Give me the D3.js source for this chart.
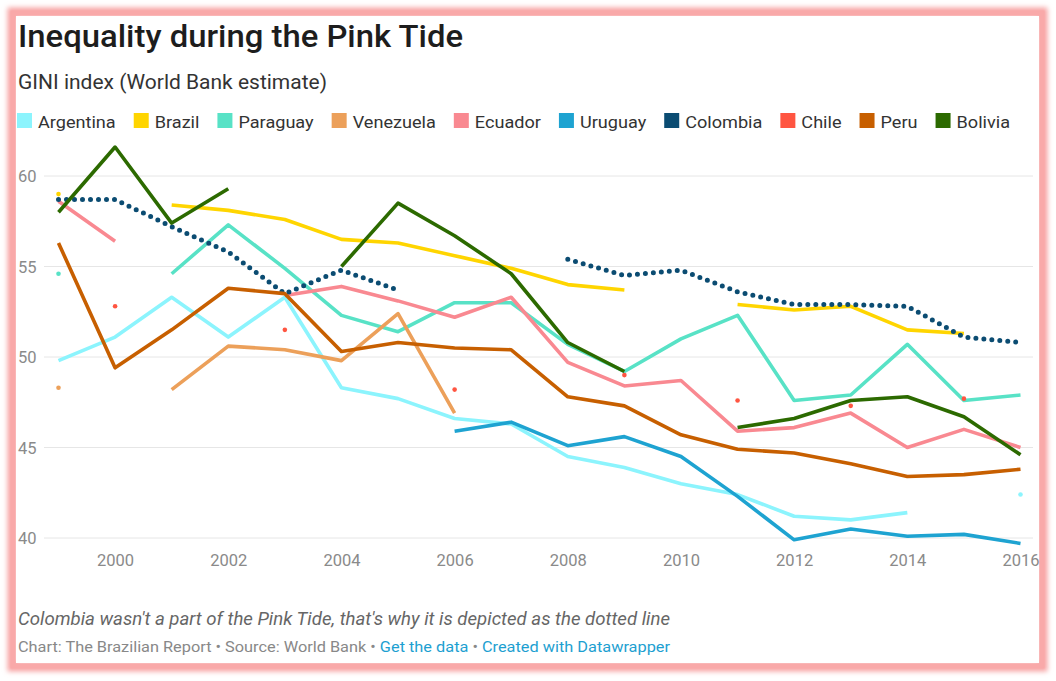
<!DOCTYPE html>
<html>
<head>
<meta charset="utf-8">
<script src="https://cdn.jsdelivr.net/npm/d3@7"></script>
<style>
html,body{margin:0;padding:0;background:#fff;}
svg{display:block;font-family:Roboto,"Noto Sans",sans-serif;}
</style>
</head>
<body>
<svg id="chart" width="1056" height="681"></svg>
<script>
const years = [1999,2000,2001,2002,2003,2004,2005,2006,2007,2008,2009,2010,2011,2012,2013,2014,2015,2016];
const countries = ["Argentina","Brazil","Paraguay","Venezuela","Ecuador","Uruguay","Colombia","Chile","Peru","Bolivia"];
const colors = ["#8cf4fd","#ffd500","#58e2c6","#eca05a","#f98991","#1ea3d1","#0b4c72","#ff5541","#c75f00","#2c6a00"];
const argentina = [49.8,51.1,53.3,51.1,53.3,48.3,47.7,46.6,46.3,44.5,43.9,43.0,42.4,41.2,41.0,41.4,null,42.4];
const brazil    = [59.0,null,58.4,58.1,57.6,56.5,56.3,55.6,54.9,54.0,53.7,null,52.9,52.6,52.8,51.5,51.3,null];
const paraguay  = [54.6,null,54.6,57.3,54.9,52.3,51.4,53.0,53.0,50.7,49.2,51.0,52.3,47.6,47.9,50.7,47.6,47.9];
const venezuela = [48.3,null,48.2,50.6,50.4,49.8,52.4,46.9,null,null,null,null,null,null,null,null,null,null];
const ecuador   = [58.6,56.4,null,null,53.4,53.9,53.1,52.2,53.3,49.7,48.4,48.7,45.9,46.1,46.9,45.0,46.0,45.0];
const uruguay   = [null,null,null,null,null,null,null,45.9,46.4,45.1,45.6,44.5,42.3,39.9,40.5,40.1,40.2,39.7];
const colombia  = [58.7,58.7,57.2,55.8,53.5,54.8,53.7,null,null,55.4,54.5,54.8,53.6,52.9,52.9,52.8,51.1,50.8];
const chile     = [null,52.8,null,null,51.5,null,null,48.2,null,null,49.0,null,47.6,null,47.3,null,47.7,null];
const peru      = [56.3,49.4,51.5,53.8,53.5,50.3,50.8,50.5,50.4,47.8,47.3,45.7,44.9,44.7,44.1,43.4,43.5,43.8];
const bolivia   = [58.0,61.6,57.4,59.3,null,55.0,58.5,56.7,54.6,50.8,49.2,null,46.1,46.6,47.6,47.8,46.7,44.6];
const seriesValues = [argentina,brazil,paraguay,venezuela,ecuador,uruguay,colombia,chile,peru,bolivia];
const yTicks = [40,45,50,55,60];
const xTicks = [2000,2002,2004,2006,2008,2010,2012,2014,2016];
const dotted = ["Colombia"];

const svg = d3.select("#chart");

function stretch(sel, target){
  sel.attr("textLength", target).attr("lengthAdjust","spacingAndGlyphs");
  return sel;
}

// frame
const defs = svg.append("defs");
const f = defs.append("filter").attr("id","glow").attr("x","-5%").attr("y","-5%").attr("width","110%").attr("height","110%");
f.append("feGaussianBlur").attr("stdDeviation",2.5);
svg.append("rect").attr("x",12).attr("y",12).attr("width",1031).attr("height",655)
  .attr("fill","none").attr("stroke","#f7a3a3").attr("stroke-width",9).attr("filter","url(#glow)");
svg.append("rect").attr("x",13).attr("y",13).attr("width",1029).attr("height",653)
  .attr("fill","none").attr("stroke","#f9a9a9").attr("stroke-width",5);
svg.append("rect").attr("x",16).attr("y",16).attr("width",1023).attr("height",647).attr("fill","#fff");

// title / subtitle
stretch(svg.append("text").attr("x",18).attr("y",47).attr("font-size",31).attr("font-weight",500)
  .attr("fill","#1d1d1d").text("Inequality during the Pink Tide"), 445);
stretch(svg.append("text").attr("x",18).attr("y",89).attr("font-size",20).attr("fill","#333")
  .text("GINI index (World Bank estimate)"), 309);

// legend
const leg = svg.append("g");
let lx = 17;
countries.forEach((c,i)=>{
  leg.append("rect").attr("x",lx).attr("y",113).attr("width",15).attr("height",15).attr("fill",colors[i]);
  const t = leg.append("text").attr("x",lx+21).attr("y",127.5).attr("font-size",17).attr("fill","#333").text(c);
  const w = t.node().getComputedTextLength()*1.065;
  stretch(t, w);
  lx += 21 + w + 18;
});

// scales
const x = d3.scaleLinear().domain([1999,2016]).range([58.5,1020.5]);
const y = d3.scaleLinear().domain([40,60]).range([538,176]);

// gridlines + y labels
const yAxis = d3.axisLeft(y).tickValues(yTicks).tickSize(0).tickFormat(d3.format("d"));
const gy = svg.append("g").attr("transform","translate(18,0)").call(yAxis);
gy.select(".domain").remove();
gy.selectAll("text").attr("text-anchor","start").attr("x",0).attr("dy","0.35em")
  .attr("font-size",16.5).attr("fill","#8a8a8a").attr("font-family","Roboto,sans-serif");
const grid = svg.append("g");
yTicks.forEach(v=>{
  grid.append("line").attr("x1",44).attr("x2",1033).attr("y1",y(v)).attr("y2",y(v))
    .attr("stroke","#e6e6e6").attr("stroke-width",1);
});

// x axis labels
const xAxis = d3.axisBottom(x).tickValues(xTicks).tickSize(0).tickFormat(d3.format("d"));
const gx = svg.append("g").attr("transform","translate(0,548)").call(xAxis);
gx.select(".domain").remove();
gx.selectAll("text").attr("font-size",16.5).attr("fill","#8a8a8a").attr("font-family","Roboto,sans-serif").attr("dy","0.9em");

// lines
const line = d3.line().defined(d=>d.v!=null).x(d=>x(d.year)).y(d=>y(d.v));
const plot = svg.append("g");
countries.forEach((c,i)=>{
  const data = years.map((yr,j)=>({year:yr,v:seriesValues[i][j]}));
  const isDot = dotted.includes(c);
  plot.append("path").datum(data).attr("d",line).attr("fill","none")
    .attr("stroke",colors[i]).attr("stroke-width",isDot?5:3.6)
    .attr("stroke-linejoin","round").attr("stroke-linecap",isDot?"round":"butt")
    .attr("stroke-dasharray",isDot?"0 8":null);
  // isolated points
  data.forEach((d,j)=>{
    if(d.v==null) return;
    const prev = j>0 ? data[j-1].v : null;
    const next = j<data.length-1 ? data[j+1].v : null;
    if(prev==null && next==null){
      plot.append("circle").attr("cx",x(d.year)).attr("cy",y(d.v)).attr("r",2.3).attr("fill",colors[i]);
    }
  });
});

// notes
stretch(svg.append("text").attr("x",18).attr("y",625).attr("font-size",18).attr("font-style","italic")
  .attr("fill","#666").text("Colombia wasn't a part of the Pink Tide, that's why it is depicted as the dotted line"), 652);
const src = svg.append("text").attr("x",18).attr("y",652).attr("font-size",15.5).attr("fill","#888");
src.append("tspan").text("Chart: The Brazilian Report • Source: World Bank • ");
src.append("tspan").attr("fill","#1d9fd1").text("Get the data");
src.append("tspan").text(" • ");
src.append("tspan").attr("fill","#1d9fd1").text("Created with Datawrapper");
stretch(src, 652);
</script>
</body>
</html>
